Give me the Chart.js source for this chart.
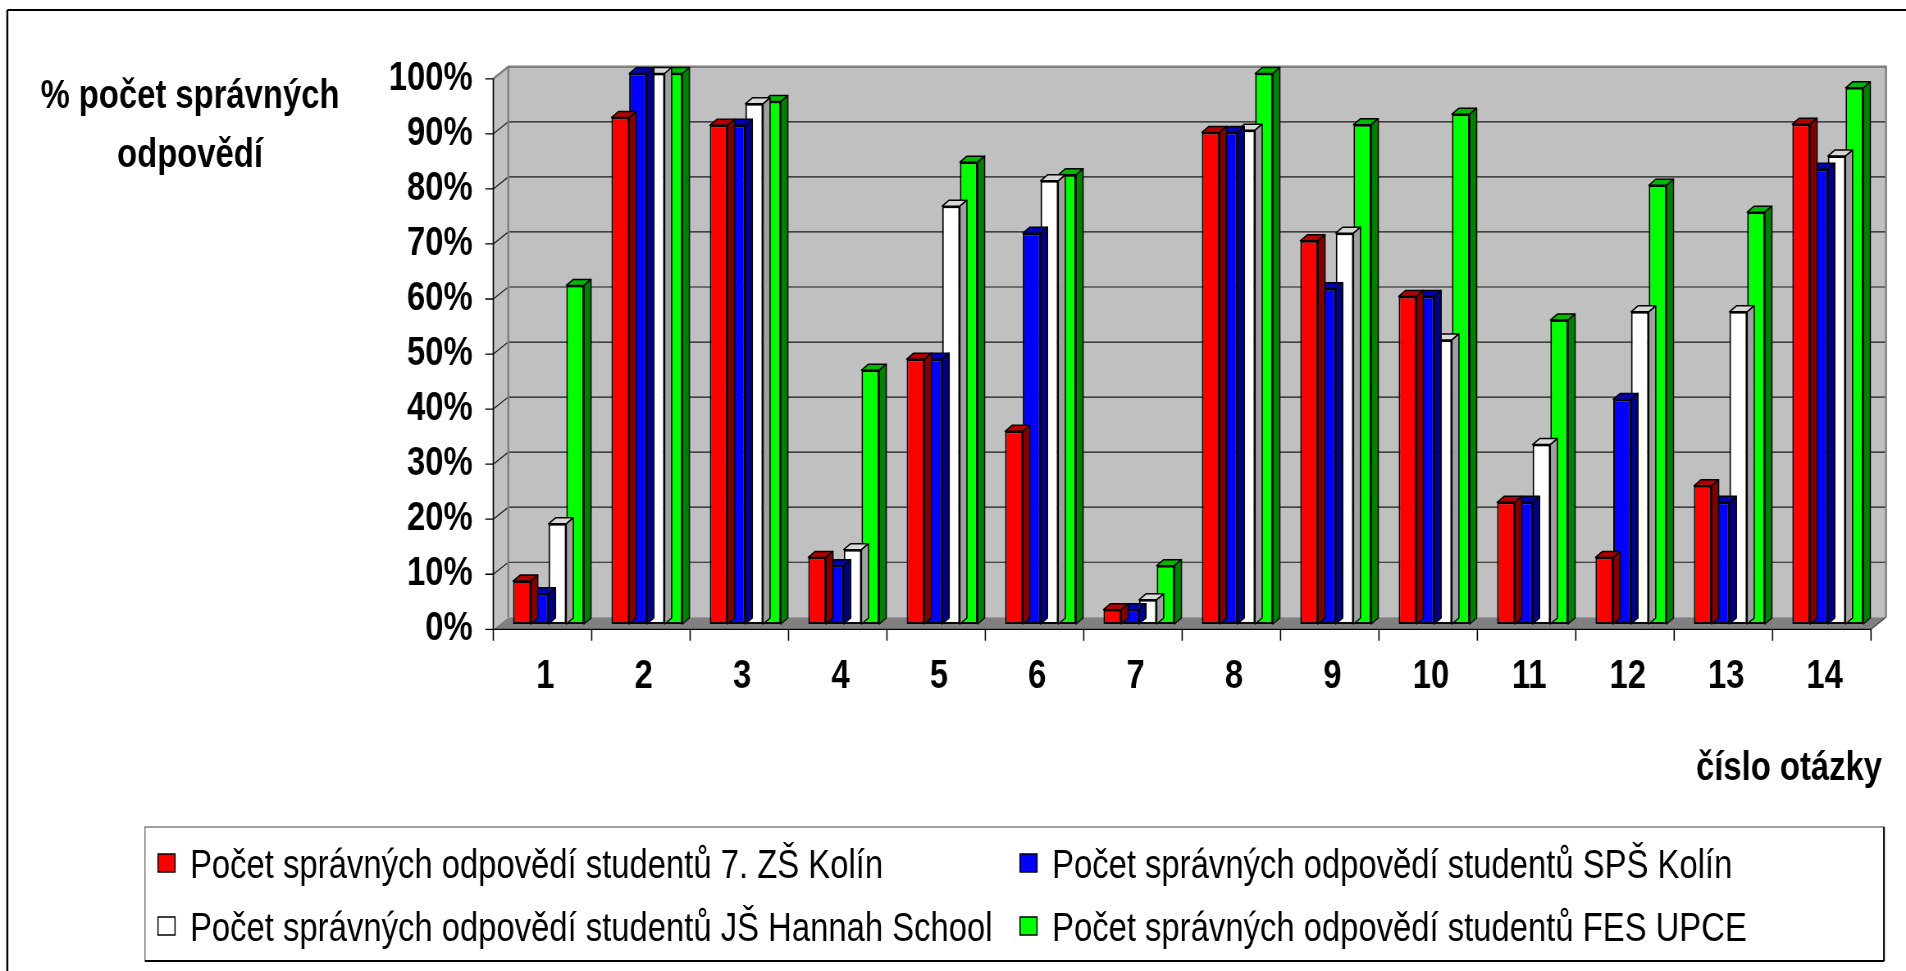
<!DOCTYPE html>
<html lang="cs">
<head>
<meta charset="utf-8">
<title>Počet správných odpovědí</title>
<script src="https://cdn.jsdelivr.net/npm/chart.js@4.4.1/dist/chart.umd.min.js"></script>
<style>
    html, body { margin: 0; padding: 0; background: #fff; overflow: hidden; }
    #graf { display: block; }
</style>
</head>
<body>
<canvas id="graf" width="2324" height="971" style="width:1906px;height:971px"></canvas>
<script>
// puvodni graf je vodorovne stlaceny, proto kreslime sirsi platno a stahneme ho CSS
const SX = 1906 / 2324;
const lx = v => v / SX;

const otazky = ['1', '2', '3', '4', '5', '6', '7', '8', '9', '10', '11', '12', '13', '14'];

const zsKolin = [7.8, 92.0, 90.6, 12.1, 48.1, 35.0, 2.6, 89.3, 69.6, 59.5, 22.1, 12.1, 25.1, 90.8];
const spsKolin = [5.5, 100, 90.6, 10.6, 48.1, 71.0, 2.6, 89.3, 60.9, 59.5, 22.1, 40.8, 22.1, 82.6];
const hannahSchool = [18.2, 100, 94.5, 13.5, 75.9, 80.5, 4.4, 89.7, 71.0, 51.6, 32.6, 56.7, 56.7, 85.0];
const fesUpce = [61.5, 100, 94.9, 46.1, 83.9, 81.6, 10.6, 100, 90.7, 92.6, 55.2, 79.7, 74.8, 97.4];

const popisky = [
    'Počet správných odpovědí studentů 7. ZŠ Kolín',
    'Počet správných odpovědí studentů SPŠ Kolín',
    'Počet správných odpovědí studentů JŠ Hannah School',
    'Počet správných odpovědí studentů FES UPCE'
];

const barvy = ['#FF0000', '#0000FF', '#FFFFFF', '#00FF00'];
const barvyVrch = ['#B00000', '#0000B0', '#D8D8D8', '#00B800'];
const barvyBok = ['#800000', '#000080', '#A0A0A0', '#008000'];

Chart.defaults.font.family = '"Liberation Sans", Arial, sans-serif';
Chart.defaults.color = '#000';

const tucne = { size: 40, weight: 'bold' };

function mnohouhelnik(ctx, body) {
    ctx.beginPath();
    ctx.moveTo(body[0][0], body[0][1]);
    for (let i = 1; i < body.length; i++) {
        ctx.lineTo(body[i][0], body[i][1]);
    }
    ctx.closePath();
}

const prostor = {
    id: 'prostor',
    beforeDatasetsDraw(chart) {
        const ctx = chart.ctx;
        const a = chart.chartArea;
        const y = chart.scales.y;
        const fL = a.left + lx(-6), fR = a.right + lx(-6);
        const bL = a.left + lx(9), bR = a.right + lx(9);
        const F = v => y.getPixelForValue(v) + 5.3;
        const B = v => y.getPixelForValue(v) - 6.7;

        ctx.save();
        // steny
        ctx.fillStyle = '#C0C0C0';
        mnohouhelnik(ctx, [[fL, F(100)], [bL, B(100)], [bL, B(0)], [fL, F(0)]]);
        ctx.fill();
        ctx.fillRect(bL, B(100), bR - bL, B(0) - B(100));
        // podlaha
        ctx.fillStyle = '#808080';
        mnohouhelnik(ctx, [[fL, F(0)], [fR, F(0)], [bR, B(0)], [bL, B(0)]]);
        ctx.fill();

        // mrizka
        ctx.strokeStyle = '#1a1a1a';
        ctx.lineWidth = 1.2;
        y.ticks.forEach(t => {
            if (t.value <= 0 || t.value >= 100) return;
            ctx.beginPath();
            ctx.moveTo(fL, F(t.value));
            ctx.lineTo(bL, B(t.value));
            ctx.lineTo(bR, B(t.value));
            ctx.stroke();
        });

        // okraje steny
        ctx.strokeStyle = '#808080';
        ctx.lineWidth = 2.5;
        ctx.beginPath();
        ctx.moveTo(fL, F(100));
        ctx.lineTo(bL, B(100));
        ctx.lineTo(bR, B(100));
        ctx.lineTo(bR, B(0));
        ctx.stroke();
        ctx.lineWidth = lx(2);
        ctx.beginPath();
        ctx.moveTo(bL, B(100));
        ctx.lineTo(bL, B(0));
        ctx.stroke();
        ctx.strokeStyle = '#404040';
        ctx.lineWidth = 1.2;
        ctx.beginPath();
        ctx.moveTo(fR, F(0));
        ctx.lineTo(bR, B(0));
        ctx.stroke();

        // predni osy
        ctx.strokeStyle = '#000';
        ctx.lineWidth = lx(1.3);
        ctx.beginPath();
        ctx.moveTo(fL, F(100));
        ctx.lineTo(fL, F(0));
        ctx.stroke();
        ctx.lineWidth = 1.3;
        ctx.beginPath();
        y.ticks.forEach(t => {
            ctx.moveTo(fL - lx(8), F(t.value));
            ctx.lineTo(fL, F(t.value));
        });
        ctx.moveTo(fL, F(0));
        ctx.lineTo(fR, F(0));
        ctx.stroke();
        ctx.lineWidth = lx(1.3);
        ctx.beginPath();
        const n = otazky.length;
        for (let i = 0; i <= n; i++) {
            const xx = fL + i * (fR - fL) / n;
            ctx.moveTo(xx, F(0));
            ctx.lineTo(xx, F(0) + 11.4);
        }
        ctx.stroke();
        ctx.restore();
    },
    afterDatasetDraw(chart, args) {
        const ctx = chart.ctx;
        const i = args.index;
        const dx = lx(7), dy = -6;
        ctx.save();
        ctx.strokeStyle = '#000';
        ctx.lineWidth = 1.5;
        ctx.lineJoin = 'round';
        args.meta.data.forEach(el => {
            const p = el.getProps(['x', 'y', 'base', 'width'], true);
            const l = p.x - p.width / 2, r = p.x + p.width / 2;
            ctx.fillStyle = barvyVrch[i];
            mnohouhelnik(ctx, [[l, p.y], [r, p.y], [r + dx, p.y + dy], [l + dx, p.y + dy]]);
            ctx.fill();
            ctx.stroke();
            ctx.fillStyle = barvyBok[i];
            mnohouhelnik(ctx, [[r, p.y], [r + dx, p.y + dy], [r + dx, p.base + dy], [r, p.base]]);
            ctx.fill();
            ctx.stroke();
        });
        ctx.restore();
    },
    afterDraw(chart) {
        const ctx = chart.ctx;
        ctx.save();
        // ramecek celeho grafu
        ctx.strokeStyle = '#000';
        ctx.lineWidth = lx(2);
        ctx.beginPath();
        ctx.moveTo(lx(7.3), 10);
        ctx.lineTo(lx(7.3), 971);
        ctx.stroke();
        ctx.lineWidth = 2;
        ctx.beginPath();
        ctx.moveTo(lx(7.3), 10);
        ctx.lineTo(chart.width, 10);
        ctx.stroke();

        // popisky os
        ctx.fillStyle = '#000';
        ctx.font = 'bold 40px "Liberation Sans", Arial, sans-serif';
        ctx.textBaseline = 'middle';
        ctx.textAlign = 'center';
        ctx.fillText('% počet správných', lx(190), 97);
        ctx.fillText('odpovědí', lx(190), 156);
        ctx.textAlign = 'right';
        ctx.fillText('číslo otázky', lx(1882), 769);

        // legenda
        const L = lx(145), T = 827, R = lx(1884), D = 961;
        ctx.lineWidth = 1.2;
        ctx.strokeStyle = '#606060';
        ctx.strokeRect(L, T, R - L, D - T);
        ctx.strokeStyle = '#000';
        ctx.lineWidth = 2;
        ctx.beginPath();
        ctx.moveTo(L, D);
        ctx.lineTo(R, D);
        ctx.moveTo(R, T);
        ctx.lineTo(R, D);
        ctx.stroke();

        const sloupce = [158, 1020];
        const radky = [863, 926];
        ctx.font = '40px "Liberation Sans", Arial, sans-serif';
        ctx.textAlign = 'left';
        ctx.lineWidth = 1.5;
        chart.data.datasets.forEach((ds, k) => {
            const sx = sloupce[k % 2];
            const yy = radky[Math.floor(k / 2)];
            ctx.fillStyle = barvy[k];
            ctx.fillRect(lx(sx), yy - 9, lx(17), 18);
            ctx.strokeRect(lx(sx), yy - 9, lx(17), 18);
            ctx.fillStyle = '#000';
            ctx.fillText(ds.label, lx(sx + 32), yy + 4);
        });
        ctx.restore();
    }
};

const ctx = document.getElementById('graf');

const graf = new Chart(ctx, {
    type: 'bar',
    data: {
        labels: otazky,
        datasets: [
            { label: popisky[0], data: zsKolin, backgroundColor: barvy[0] },
            { label: popisky[1], data: spsKolin, backgroundColor: barvy[1] },
            { label: popisky[2], data: hannahSchool, backgroundColor: barvy[2] },
            { label: popisky[3], data: fesUpce, backgroundColor: barvy[3] }
        ]
    },
    options: {
        responsive: false,
        animation: false,
        layout: {
            padding: { top: 73.5, right: 2324 - lx(1877), left: 0, bottom: 0 }
        },
        datasets: {
            bar: {
                categoryPercentage: 0.7215,
                barPercentage: 1,
                borderColor: '#000',
                borderWidth: 2,
                borderSkipped: false
            }
        },
        plugins: {
            legend: { display: false },
            tooltip: { enabled: false }
        },
        scales: {
            x: {
                grid: { display: false, drawTicks: false },
                border: { display: false },
                ticks: { font: tucne, color: '#000', padding: 29, labelOffset: -4, maxRotation: 0, autoSkip: false },
                afterFit: s => { s.height = 971 - 624; }
            },
            y: {
                min: 0,
                max: 100,
                grid: { display: false, drawTicks: false },
                border: { display: false },
                ticks: {
                    stepSize: 10,
                    font: tucne,
                    color: '#000',
                    padding: lx(26.6),
                    labelOffset: 5,
                    callback: v => v + '%'
                },
                afterFit: s => { s.width = lx(499.3); }
            }
        }
    },
    plugins: [prostor]
});
</script>
</body>
</html>
